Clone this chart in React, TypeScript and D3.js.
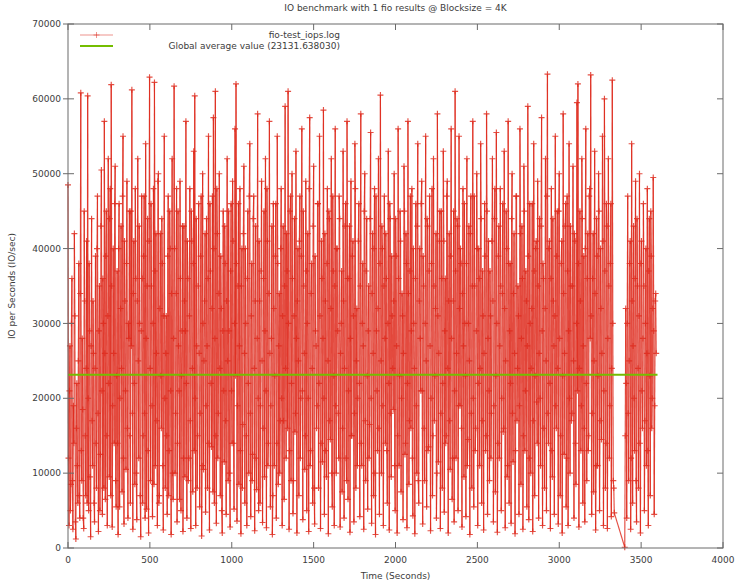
import React from "react";
import * as d3 from "d3";

const TITLE = "IO benchmark with 1 fio results @ Blocksize = 4K";
const X_LABEL = "Time (Seconds)";
const Y_LABEL = "IO per Seconds (IO/sec)";
const SERIES_NAME = "fio-test_iops.log";
const AVG_VALUE = 23131.63803;
const AVG_LABEL = "Global average value (23131.638030)";
const AVG_END_TIME = 3600;

const X_TICKS = [0, 500, 1000, 1500, 2000, 2500, 3000, 3500, 4000];
const Y_TICKS = [0, 10000, 20000, 30000, 40000, 50000, 60000, 70000];

// Sampling of the log (seconds): primary samples every 6 s, secondary samples offset by 3 s
const STEP = 6;
const HALF = 3;
const SEG_A_START = 0;
const SEG_B_START = 3400;

// IOPS samples, segment A (t = 0, 6, 12 ... 3336)
const SEG_A = [
  48500, 3000, 27000, 8500, 36000, 2500, 14000, 31000, 1200, 22000, 6000, 38000, 4000, 60800, 9000, 18500, 2600, 33000, 7000, 41000,
  60400, 5000, 29000, 1500, 44000, 11000, 26000, 3500, 39000, 8000, 47000, 2200, 35000, 12500, 50500, 4500, 30000, 57000, 6500, 45000,
  3000, 52000, 9500, 48000, 61900, 2800, 40000, 14000, 51000, 5500, 37000, 1800, 46000, 20000, 43000, 7500, 55000, 3200, 33000, 10500,
  49000, 4000, 28000, 15000, 45000, 61200, 2500, 41000, 8500, 36000, 3800, 52000, 12000, 30000, 1500, 47000, 6000, 39000, 18000, 54000,
  5200, 44000, 2000, 62900, 9000, 35000, 4200, 48000, 62200, 11000, 26000, 3000, 50000, 7000, 42000, 16000, 38000, 2400, 55000, 8000,
  31000, 4500, 47000, 13000, 40000, 1800, 52000, 6500, 61700, 10000, 34000, 3500, 45000, 21000, 49000, 5000, 29000, 2200, 43000, 9500,
  57000, 4000, 36000, 12000, 48000, 2600, 41000, 7500, 53000, 60400, 3000, 27000, 15000, 46000, 5500, 39000, 1600, 50000, 10500, 33000,
  4800, 44000, 8000, 55000, 2400, 37000, 13500, 47000, 57500, 6000, 61000, 3300, 42000, 18000, 50000, 7000, 32000, 2000, 45000, 11500,
  38000, 4500, 52000, 9000, 29000, 2800, 46000, 14000, 41000, 5200, 56000, 62000, 3600, 35000, 8500, 48000, 1900, 40000, 16500, 51000,
  6000, 30000, 3000, 45000, 10000, 54000, 4200, 38000, 12500, 47000, 2300, 43000, 7800, 58000, 5000, 33000, 19000, 49000, 3400, 36000,
  9500, 52000, 2700, 41000, 14000, 57000, 5500, 28000, 1800, 46000, 11000, 39000, 4000, 55000, 8500, 34000, 17000, 48000, 3000, 43000,
  6500, 59000, 12000, 37000, 61000, 2500, 45000, 9000, 50000, 4600, 31000, 15500, 53000, 2000, 40000, 7000, 47000, 20000, 56000, 3800,
  35000, 10500, 49000, 5000, 42000, 2200, 57500, 13000, 38000, 6000, 51000, 3200, 29000, 16000, 46000, 8000, 55000, 2600, 41000, 11500,
  58500, 4500, 33000, 9500, 48000, 1900, 44000, 14500, 52000, 5500, 37000, 3000, 56000, 10000, 40000, 18000, 47000, 2800, 30000, 7500,
  53000, 4000, 43000, 12000, 57000, 6500, 36000, 2100, 49000, 15000, 41000, 3500, 54000, 8000, 32000, 20000, 46000, 4200, 58000, 11000,
  38000, 2500, 50000, 9000, 44000, 5200, 35000, 16500, 55500, 3300, 42000, 7000, 48000, 1800, 29000, 13000, 52000, 4500, 60500, 10000,
  40000, 3000, 47000, 14000, 36000, 6000, 53000, 2400, 44000, 9500, 31000, 18500, 50000, 5000, 39000, 2000, 56000, 11000, 45000, 7500,
  34000, 3800, 51000, 12500, 42000, 2700, 57000, 8500, 37000, 16000, 48000, 4300, 30000, 1900, 46000, 10000, 54000, 6000, 40000, 21000,
  49000, 3200, 35000, 9000, 55000, 5500, 43000, 13500, 47000, 2300, 38000, 7000, 52000, 17000, 32000, 4000, 58000, 11500, 41000, 2600,
  45000, 8000, 53000, 4800, 36000, 15000, 49000, 2000, 42000, 10500, 56000, 6500, 33000, 3500, 61000, 12000, 44000, 5000, 55000, 19000,
  38000, 2800, 48000, 9500, 30000, 4200, 52000, 14500, 43000, 1800, 47000, 8000, 57000, 5500, 35000, 16000, 50000, 3000, 40000, 11000,
  54000, 6000, 37000, 2400, 46000, 13000, 58000, 4500, 41000, 9000, 31000, 18000, 52000, 3500, 44000, 7500, 55500, 2100, 39000, 12000,
  48000, 5000, 34000, 15500, 53000, 2700, 45000, 9500, 57000, 6000, 38000, 3300, 50000, 11500, 42000, 1900, 47000, 17000, 35000, 4500,
  56000, 8500, 43000, 2500, 51000, 13000, 37000, 5500, 59000, 3800, 46000, 10000, 32000, 2200, 54000, 7000, 40000, 19500, 49000, 4000,
  44000, 11000, 57500, 3000, 36000, 8000, 52000, 5000, 63300, 14000, 41000, 2600, 48000, 9500, 33000, 4500, 55000, 16000, 45000, 3200,
  50000, 7000, 38000, 2000, 58000, 12500, 43000, 5500, 47000, 3000, 54000, 10000, 35000, 18000, 51000, 4000, 41000, 8500, 59500, 62000,
  2800, 45000, 13000, 52000, 6000, 39000, 3500, 56000, 9000, 42000, 15000, 48000, 63200, 4500, 36000, 7500, 53000, 2400, 44000, 11000,
  50000, 5000, 40000, 14500, 55000, 3000, 60000, 8000, 46000, 2600, 52000, 12000, 38000, 4200, 62500, 9000, 4700,
];

// IOPS samples, segment A, in-between samples (t = 3, 9, 15 ... 3333)
const SEG_A_MID = [
  12000, 21000, 5000, 30000, 9000, 19000, 42000, 3500, 16000, 11000, 25000, 7000, 34000, 13000, 28000, 4000, 45000, 15000, 24000, 6000,
  20000, 38000, 9500, 27000, 17000, 33000, 6000, 24000, 14000, 40000, 18000, 29000, 5000, 43000, 21000, 36000, 8000, 26000, 39000, 15000,
  31000, 22000, 44000, 7000, 35000, 19000, 26000, 46000, 9000, 23000, 14000, 40000, 5500, 32000, 24000, 47000, 12000, 41000, 21000, 38000,
  16000, 30000, 45000, 6000, 27000, 18000, 34000, 22000, 48000, 10000, 33000, 25000, 43000, 7000, 29000, 36000, 15000, 47000, 4000, 28000,
  35000, 13000, 41000, 24000, 46000, 19000, 30000, 8500, 37000, 42000, 17000, 49000, 6000, 32000, 23000, 44000, 11000, 31000, 20000, 26000,
  15000, 39000, 7000, 45000, 21000, 34000, 10000, 28000, 40000, 18000, 48000, 14000, 27000, 6500, 36000, 23000, 43000, 12000, 33000, 29000,
  22000, 41000, 9000, 31000, 17000, 45000, 24000, 38000, 13000, 20000, 44000, 8000, 35000, 26000, 18000, 47000, 11000, 30000, 25000, 42000,
  19000, 27000, 36000, 14000, 46000, 22000, 32000, 7500, 40000, 28000, 15000, 48000, 12000, 34000, 24000, 39000, 5000, 29000, 21000, 43000,
  17000, 33000, 25000, 45000, 10000, 37000, 21000, 49000, 14000, 30000, 23000, 38000, 19000, 46000, 27000, 13000, 35000, 8000, 42000, 26000,
  40000, 15000, 36000, 22000, 47000, 18000, 31000, 9000, 44000, 24000, 33000, 12000, 28000, 20000, 41000, 6000, 37000, 25000, 16000, 45000,
  29000, 21000, 48000, 11000, 34000, 26000, 19000, 43000, 7000, 32000, 23000, 46000, 14000, 38000, 27000, 10000, 40000, 20000, 31000, 17000,
  35000, 24000, 42000, 16000, 30000, 13000, 47000, 22000, 36000, 9000, 44000, 18000, 28000, 33000, 25000, 41000, 12000, 39000, 21000, 45000,
  26000, 15000, 37000, 30000, 20000, 48000, 11000, 34000, 24000, 43000, 8000, 39000, 27000, 19000, 46000, 22000, 31000, 14000, 36000, 28000,
  20000, 42000, 13000, 38000, 25000, 45000, 17000, 32000, 10000, 47000, 23000, 35000, 19000, 40000, 29000, 12000, 44000, 26000, 37000, 16000,
  33000, 24000, 46000, 9000, 36000, 21000, 43000, 28000, 15000, 39000, 31000, 18000, 48000, 25000, 11000, 41000, 22000, 35000, 14000, 30000,
  27000, 45000, 17000, 37000, 23000, 29000, 12000, 44000, 20000, 34000, 26000, 40000, 10000, 47000, 21000, 32000, 16000, 38000, 25000, 43000,
  19000, 35000, 28000, 42000, 13000, 30000, 22000, 46000, 18000, 39000, 24000, 33000, 11000, 44000, 27000, 15000, 36000, 23000, 41000, 20000,
  31000, 26000, 45000, 14000, 38000, 22000, 34000, 17000, 47000, 29000, 12000, 40000, 24000, 36000, 19000, 43000, 9000, 33000, 28000, 46000,
  21000, 39000, 16000, 30000, 25000, 44000, 13000, 37000, 27000, 20000, 48000, 15000, 35000, 23000, 42000, 10000, 31000, 26000, 45000, 18000,
  36000, 22000, 41000, 29000, 14000, 47000, 24000, 33000, 17000, 39000, 28000, 12000, 45000, 21000, 37000, 26000, 43000, 19000, 32000, 40000,
  16000, 34000, 27000, 46000, 23000, 38000, 11000, 30000, 25000, 42000, 18000, 35000, 20000, 47000, 13000, 29000, 40000, 22000, 36000, 24000,
  44000, 17000, 31000, 26000, 39000, 15000, 45000, 28000, 21000, 37000, 12000, 41000, 33000, 19000, 48000, 23000, 30000, 14000, 43000, 27000,
  35000, 20000, 46000, 16000, 32000, 25000, 40000, 11000, 38000, 29000, 22000, 44000, 18000, 34000, 26000, 13000, 47000, 24000, 31000, 19000,
  42000, 28000, 36000, 15000, 45000, 21000, 33000, 27000, 39000, 12000, 30000, 24000, 46000, 17000, 37000, 23000, 41000, 14000, 35000, 26000,
  20000, 43000, 29000, 38000, 16000, 32000, 25000, 47000, 18000, 40000, 22000, 36000, 13000, 44000, 27000, 31000, 19000, 39000, 24000, 45000,
  28000, 15000, 41000, 23000, 34000, 26000, 46000, 12000, 37000, 29000, 20000, 43000, 17000, 35000, 25000, 42000, 14000, 30000, 21000, 38000,
  24000, 33000, 19000, 44000, 27000, 16000, 40000, 22000, 36000, 13000, 47000, 28000, 31000, 18000, 42000, 25000, 34000, 11000, 39000, 23000,
  45000, 17000, 32000, 26000, 41000, 21000, 37000, 14000, 43000, 28000, 35000, 19000, 46000, 24000, 30000, 8000,
];

// IOPS samples, segment B (t = 3400, 3406 ... 3592)
const SEG_B = [
  100, 32000, 4000, 47000, 9000, 38000, 2500, 54000, 6000, 43000, 13000, 49000, 3500, 35000, 8000, 50000, 2000, 41000, 16000, 46000,
  5000, 30000, 11000, 48000, 3000, 44000, 7000, 39000, 20000, 49500, 4500, 33000, 26000,
];

// IOPS samples, segment B, in-between samples (t = 3403, 3409 ... 3589)
const SEG_B_MID = [
  15000, 22000, 30000, 18000, 25000, 41000, 12000, 33000, 27000, 20000, 36000, 9000, 44000, 24000, 31000, 14000, 38000, 21000, 28000, 35000,
  17000, 40000, 26000, 13000, 37000, 23000, 45000, 16000, 32000, 29000, 19000, 34000,
];

const W = 735;
const H = 583;
const M = { left: 68, right: 723, top: 24, bottom: 548 };
const FONT = "'DejaVu Sans', sans-serif";
const TEXT_COLOR = "#3c3c3c";
const AXIS_COLOR = "#6a6a6a";
const RED = "rgb(222,42,28)";
const GREEN = "#74bd00";

function merge(start: number, main: number[], mid: number[]): [number, number][] {
  const out: [number, number][] = [];
  main.forEach((v, i) => {
    out.push([start + i * STEP, v]);
    if (i < mid.length) out.push([start + i * STEP + HALF, mid[i]]);
  });
  return out;
}

export default function App() {
  const x = d3.scaleLinear().domain([0, 4000]).range([M.left, M.right]);
  const y = d3.scaleLinear().domain([0, 70000]).range([M.bottom, M.top]);

  const points: [number, number][] = [
    ...merge(SEG_A_START, SEG_A, SEG_A_MID),
    ...merge(SEG_B_START, SEG_B, SEG_B_MID),
  ];

  const segs = [];
  for (let i = 0; i < points.length - 1; i++) {
    const [t0, v0] = points[i];
    const [t1, v1] = points[i + 1];
    segs.push(<line key={"s" + i} x1={x(t0)} y1={y(v0)} x2={x(t1)} y2={y(v1)} />);
  }
  const ms = 3;
  const marks = points.map(([t, v], i) => {
    const px = x(t), py = y(v);
    return <path key={"m" + i} d={`M${px - ms},${py}H${px + ms}M${px},${py - ms}V${py + ms}`} />;
  });

  const tickLen = 6;

  return (
    <svg width={W} height={H} style={{ display: "block", position: "absolute", left: 0, top: 0, background: "#fff" }}>
      <rect x={0} y={0} width={W} height={H} fill="#fff" />
      {/* data */}
      <g stroke={RED} strokeOpacity={0.82} strokeWidth={1.15} fill="none">
        {segs}
        {marks}
      </g>
      {/* average */}
      <line x1={x(0)} x2={x(AVG_END_TIME)} y1={y(AVG_VALUE)} y2={y(AVG_VALUE)} stroke={GREEN} strokeWidth={2} />

      {/* border */}
      <rect x={M.left} y={M.top} width={M.right - M.left} height={M.bottom - M.top} fill="none" stroke={AXIS_COLOR} strokeWidth={1} />

      {/* y ticks */}
      {Y_TICKS.map((t) => (
        <g key={"yt" + t}>
          <line x1={M.left - 5} x2={M.left + tickLen} y1={y(t)} y2={y(t)} stroke={AXIS_COLOR} />
          <line x1={M.right - tickLen} x2={M.right} y1={y(t)} y2={y(t)} stroke={AXIS_COLOR} />
          <text x={M.left - 7} y={y(t)} dy="0.35em" textAnchor="end" fontFamily={FONT} fontSize={9} fill={TEXT_COLOR}>
            {t}
          </text>
        </g>
      ))}
      {/* x ticks */}
      {X_TICKS.map((t) => (
        <g key={"xt" + t}>
          <line x1={x(t)} x2={x(t)} y1={M.bottom} y2={M.bottom - tickLen} stroke={AXIS_COLOR} />
          <line x1={x(t)} x2={x(t)} y1={M.top} y2={M.top + tickLen} stroke={AXIS_COLOR} />
          <text x={x(t)} y={M.bottom + 15} textAnchor="middle" fontFamily={FONT} fontSize={9} fill={TEXT_COLOR}>
            {t}
          </text>
        </g>
      ))}

      {/* titles */}
      <text x={(M.left + M.right) / 2} y={11} textAnchor="middle" fontFamily={FONT} fontSize={9} fill={TEXT_COLOR}>
        {TITLE}
      </text>
      <text x={(M.left + M.right) / 2} y={579} textAnchor="middle" fontFamily={FONT} fontSize={9} fill={TEXT_COLOR}>
        {X_LABEL}
      </text>
      <text transform={`translate(15,${(M.top + M.bottom) / 2}) rotate(-90)`} textAnchor="middle" fontFamily={FONT} fontSize={9} fill={TEXT_COLOR}>
        {Y_LABEL}
      </text>

      {/* legend */}
      <g>
        <text x={340} y={38} textAnchor="end" fontFamily={FONT} fontSize={9} fill={TEXT_COLOR}>{SERIES_NAME}</text>
        <line x1={80} x2={113} y1={35} y2={35} stroke={RED} strokeOpacity={0.5} />
        <path d={`M${96.5 - ms},35H${96.5 + ms}M96.5,${35 - ms}V${35 + ms}`} stroke={RED} strokeOpacity={0.5} />
        <text x={340} y={49} textAnchor="end" fontFamily={FONT} fontSize={9} fill={TEXT_COLOR}>{AVG_LABEL}</text>
        <line x1={80} x2={113} y1={46} y2={46} stroke={GREEN} strokeWidth={2} />
      </g>
    </svg>
  );
}
